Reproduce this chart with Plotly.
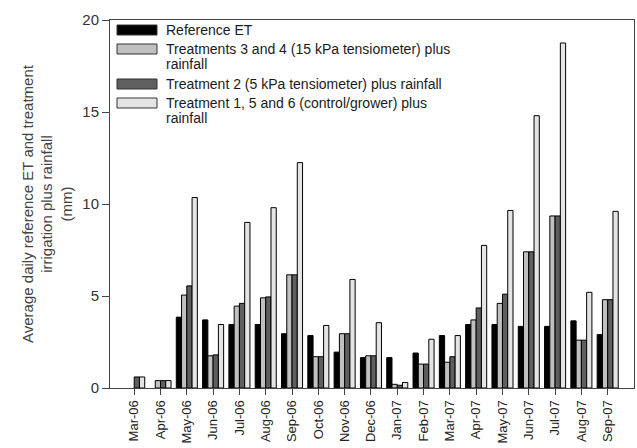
import plotly.graph_objects as go

months = ["Mar-06", "Apr-06", "May-06", "Jun-06", "Jul-06", "Aug-06", "Sep-06", "Oct-06",
          "Nov-06", "Dec-06", "Jan-07", "Feb-07", "Mar-07", "Apr-07", "May-07", "Jun-07",
          "Jul-07", "Aug-07", "Sep-07"]

ref_et = [None, None, 3.85, 3.7, 3.45, 3.45, 2.95, 2.85, 1.95, 1.65, 1.65, 1.9, 2.85,
          3.45, 3.45, 3.35, 3.35, 3.65, 2.9]
t34 = [None, 0.4, 5.05, 1.75, 4.45, 4.9, 6.15, 1.7, 2.95, 1.75, 0.2, 1.3, 1.4,
       3.7, 4.6, 7.4, 9.35, 2.6, 4.8]
t2 = [0.6, 0.4, 5.55, 1.8, 4.6, 4.95, 6.15, 1.7, 2.95, 1.75, 0.15, 1.3, 1.7,
      4.35, 5.1, 7.4, 9.35, 2.6, 4.8]
t1 = [0.6, 0.4, 10.35, 3.45, 9.0, 9.8, 12.25, 3.4, 5.9, 3.55, 0.3, 2.65, 2.85,
      7.75, 9.65, 14.8, 18.75, 5.2, 9.6]

series_names = [
    "Reference ET",
    "Treatments 3 and 4 (15 kPa tensiometer) plus<br>rainfall",
    "Treatment 2 (5 kPa tensiometer) plus rainfall",
    "Treatment 1, 5 and 6 (control/grower) plus<br>rainfall",
]
series_values = [ref_et, t34, t2, t1]
series_colors = ["#000000", "#c0c0c0", "#5f5f5f", "#e4e4e4"]

xpos = list(range(len(months)))

fig = go.Figure()
for name, vals, col in zip(series_names, series_values, series_colors):
    fig.add_trace(go.Bar(x=xpos, y=vals, name=name.replace("<br>", " "), showlegend=False,
                         marker=dict(color=col, line=dict(color="#000000", width=1))))

# Custom legend (wide swatches like the original)
PL, PR, PT, PB = 110, 634, 20, 388
def px(p):
    return (p - PL) / (PR - PL)
def py(q):
    return (PB - q) / (PB - PT)

legend_rows = [30, 49, 84, 103]
line_step = 15
for name, col, rowy in zip(series_names, series_colors, legend_rows):
    fig.add_shape(type="rect", xref="paper", yref="paper",
                  x0=px(117), x1=px(157), y0=py(rowy + 5), y1=py(rowy - 5),
                  fillcolor=col, line=dict(color="#333333", width=1))
    for i, line in enumerate(name.split("<br>")):
        fig.add_annotation(xref="paper", yref="paper", x=px(164), y=py(rowy + i * line_step),
                           xanchor="left", yanchor="middle", text=line, showarrow=False,
                           align="left",
                           font=dict(family="Liberation Sans, Arial", size=14, color="#1a1a1a"))

fig.update_layout(
    width=637, height=448,
    margin=dict(l=PL, r=637 - PR, t=PT, b=448 - PB),
    paper_bgcolor="white", plot_bgcolor="white",
    barmode="group", bargap=0.2, bargroupgap=0,
    font=dict(family="Liberation Sans, Arial", size=13, color="#333333"),
)
fig.update_xaxes(range=[-0.92, 19.0], tickmode="array", tickvals=xpos, ticktext=months,
                 tickangle=-90, ticks="outside", ticklen=6, tickcolor="#444444",
                 showline=True, linecolor="#444444", linewidth=1, mirror=True,
                 showgrid=False, zeroline=False, automargin=False,
                 tickfont=dict(size=13, color="#222222"))
fig.update_yaxes(range=[0, 20], tickvals=[0, 5, 10, 15, 20], ticks="outside", ticklen=7,
                 tickcolor="#444444", showline=True, linecolor="#444444", linewidth=1,
                 mirror=True, showgrid=False, zeroline=False, automargin=False,
                 tickfont=dict(size=15, color="#333333"),
                 title=dict(text="Average daily reference ET and treatment<br>irrigation plus rainfall<br>(mm)",
                            font=dict(size=15, color="#444444"), standoff=6))

fig.write_html("out.html", config={"displayModeBar": False},
               post_script="document.body.style.margin='0';document.body.style.overflow='hidden';")
